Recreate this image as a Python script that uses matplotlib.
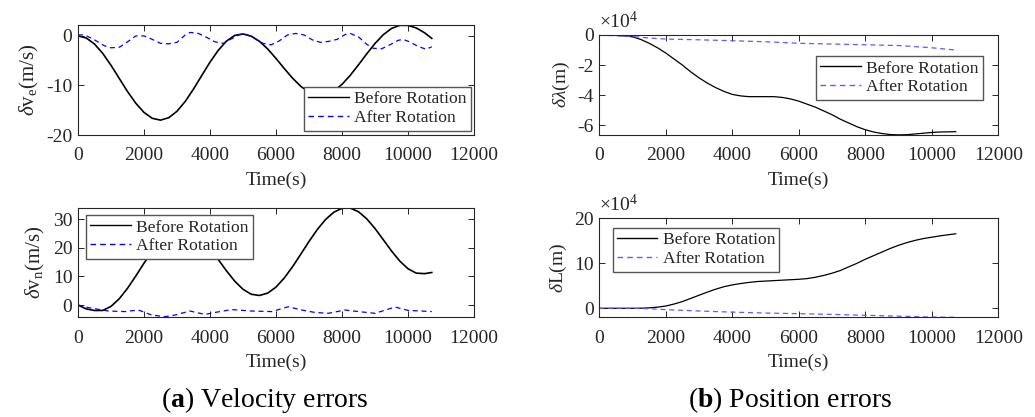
import numpy as np
import matplotlib
matplotlib.use("Agg")
import matplotlib.pyplot as plt

plt.rcParams['font.family'] = ['Liberation Serif', 'DejaVu Serif']
plt.rcParams['mathtext.fontset'] = 'custom'
plt.rcParams['mathtext.rm'] = 'Liberation Serif'
plt.rcParams['mathtext.it'] = 'Liberation Serif:italic'
plt.rcParams['mathtext.bf'] = 'Liberation Serif:bold'
plt.rcParams['axes.unicode_minus'] = False

# time axis (s) shared by the "before rotation" curves
t = [0, 250, 500, 750, 1000, 1250, 1500, 1750, 2000, 2250, 2500, 2750, 3000, 3250,
     3500, 3750, 4000, 4250, 4500, 4750, 5000, 5250, 5500, 5750, 6000, 6250, 6500,
     6750, 7000, 7250, 7500, 7750, 8000, 8250, 8500, 8750, 9000, 9250, 9500, 9750,
     10000, 10250, 10500, 10720]

# east velocity error, before rotation (m/s)
ve_before = [0, -0.42, -1.64, -3.54, -5.93, -8.58, -11.22, -13.58, -15.44, -16.63, -17.0,
             -16.51, -15.21, -13.22, -10.73, -8.0, -5.30, -2.91, -1.04, 0.10, 0.39,
             -0.05, -1.10, -2.65, -4.55, -6.58, -8.52, -10.17, -11.36, -11.94, -11.87,
             -11.13, -9.78, -7.95, -5.83, -3.62, -1.53, 0.23, 1.50, 2.13,
             2.12, 1.60, 0.64, -0.5]

# east velocity error, after rotation
t_ve_after = [0, 200, 500, 800, 1000, 1250, 1500, 1750, 2000, 2250, 2500, 2750, 3000,
              3250, 3400, 3650, 3900, 4150, 4400, 4650, 4900, 5100, 5350, 5600, 5850,
              6100, 6350, 6600, 6850, 7100, 7350, 7600, 7850, 8100, 8250, 8500, 8750,
              8950, 9200, 9450, 9700, 9850, 10050, 10300, 10550, 10720]
ve_after = [0.2, 0.2, -0.8, -2.0, -2.4, -2.3, -1.2, 0.0, 0.0, -0.7, -1.5, -1.6, -1.3,
            0.2, 0.7, 0.5, -0.3, -1.2, -1.5, -0.6, 0.3, 0.3, -0.5, -1.5, -1.8,
            -1.0, 0.2, 0.5, 0.2, -0.8, -1.3, -1.1, -0.7, 0.3, 0.5, -0.2, -1.7,
            -2.5, -2.6, -1.8, -0.9, -0.7, -1.2, -2.1, -2.7, -2.2]

# north velocity error, before rotation (m/s)
vn_before = [0, -1.36, -1.92, -1.90, -0.47, 2.19, 5.86, 10.15, 14.66, 18.95, 22.62,
             25.33, 26.78, 26.87, 25.63, 23.18, 19.83, 15.95, 11.97, 8.36, 5.52,
             3.77, 3.35, 4.18, 6.29, 9.46, 13.40, 17.79, 22.27, 26.45, 29.96,
             32.51, 33.90, 33.97, 32.70, 30.21, 26.82, 22.91, 18.95, 15.42,
             12.72, 11.18, 11.0, 11.4]

t_vn_after = [0, 313, 620, 920, 1420, 1830, 2230, 2640, 2940, 3390, 3850, 4150, 4660,
              5260, 5870, 6370, 6780, 7180, 7590, 8090, 8500, 9000, 9610, 10010,
              10410, 10720]
vn_after = [0, -0.9, -1.5, -2.1, -2.3, -1.75, -3.5, -4.1, -3.5, -2.1, -3.3, -2.6, -1.6,
            -2.1, -2.3, -0.6, -1.75, -2.6, -2.9, -1.75, -2.3, -2.9, -0.7, -1.9,
            -2.1, -2.3]

# longitude error (x1e4 m)
lon_before = [0, -0.01, -0.02, -0.06, -0.12, -0.3, -0.55, -0.85, -1.2, -1.6, -2.0,
              -2.45, -2.85, -3.2, -3.5, -3.75, -3.95, -4.05, -4.1, -4.1, -4.1,
              -4.1, -4.15, -4.25, -4.4, -4.6, -4.8, -5.05, -5.3, -5.6, -5.85,
              -6.1, -6.3, -6.45, -6.55, -6.62, -6.64, -6.63, -6.58, -6.53,
              -6.48, -6.45, -6.44, -6.43]
t_pos_after = [0, 500, 1000, 1500, 2000, 3000, 4000, 5000, 6000, 7000, 8000, 9000,
               10000, 10720]
lon_after = [0, -0.05, -0.1, -0.2, -0.27, -0.32, -0.38, -0.45, -0.55, -0.6, -0.65,
             -0.7, -0.85, -1.0]

# latitude error (x1e4 m)
lat_before = [0, 0, 0, 0, 0, 0.02, 0.1, 0.25, 0.5, 0.95, 1.5, 2.2, 2.9, 3.6, 4.25,
              4.8, 5.2, 5.5, 5.75, 5.95, 6.05, 6.15, 6.25, 6.35, 6.45, 6.6, 6.9,
              7.3, 7.8, 8.4, 9.2, 10.0, 10.9, 11.7, 12.5, 13.3, 14.0, 14.6, 15.1,
              15.5, 15.8, 16.1, 16.35, 16.55]
lat_after = [0, 0, 0, -0.1, -0.3, -0.6, -0.85, -1.05, -1.2, -1.35, -1.55, -1.75,
             -1.95, -2.0]

DARK = '#262626'
FS = 14
W, H = 1035, 417
fig = plt.figure(figsize=(W / 100, H / 100), dpi=100)


def make_ax(x0, y0, x1, y1):
    ax = fig.add_axes([x0 / W, 1 - y1 / H, (x1 - x0) / W, (y1 - y0) / H])
    ax.tick_params(direction='in', top=True, right=True, labelsize=FS,
                   colors=DARK, length=4, width=0.7)
    ax.tick_params(axis='x', pad=9)
    ax.tick_params(axis='y', pad=4)
    for s in ax.spines.values():
        s.set_color(DARK)
        s.set_linewidth(0.8)
    ax.set_xlim(0, 12000)
    ax.set_xticks([0, 2000, 4000, 6000, 8000, 10000, 12000])
    ax.set_xlabel('Time(s)', fontsize=FS, color=DARK, labelpad=5)
    return ax


def add_legend(ax, loc, anchor, blue):
    h1, = ax.plot([], [], color='black', lw=1)
    h2, = ax.plot([], [], color=blue, lw=1, ls=(0, (4, 3)))
    leg = ax.legend([h1, h2], ['Before Rotation', 'After Rotation'], loc=loc,
                    bbox_to_anchor=anchor, borderaxespad=0, fontsize=12.6,
                    fancybox=False, framealpha=1, edgecolor='#555555',
                    handlelength=2.3, handletextpad=0.3, labelspacing=0.15,
                    borderpad=0.25)
    leg.get_frame().set_linewidth(1.0)
    for txt in leg.get_texts():
        txt.set_color(DARK)


BLUE = '#0000ff'
LBLUE = '#5c5cff'

# (a) top: east velocity
ax1 = make_ax(78, 25, 474, 135)
ax1.plot(t, ve_before, color='black', lw=1.2)
ax1.plot(t_ve_after, ve_after, color=BLUE, lw=0.9, ls=(0, (4, 3)))
ax1.set_ylim(-20, 2.2)
ax1.set_yticks([-20, -10, 0])
ax1.set_ylabel(r'$\delta$v$_\mathrm{e}$(m/s)', fontsize=15, color=DARK, labelpad=4)
add_legend(ax1, 'lower right', (0.992, 0.039), BLUE)

# (a) bottom: north velocity
ax2 = make_ax(78, 208.3, 474, 317.3)
ax2.plot(t, vn_before, color='black', lw=1.2)
ax2.plot(t_vn_after, vn_after, color=BLUE, lw=0.9, ls=(0, (4, 3)))
ax2.set_ylim(-4.3, 33.9)
ax2.set_yticks([0, 10, 20, 30])
ax2.set_ylabel(r'$\delta$v$_\mathrm{n}$(m/s)', fontsize=15, color=DARK, labelpad=4)
add_legend(ax2, 'upper left', (0.02, 0.939), BLUE)

# (b) top: longitude
ax3 = make_ax(599.3, 35, 998.3, 135)
ax3.plot(t, lon_before, color='black', lw=0.9)
ax3.plot(t_pos_after, lon_after, color=LBLUE, lw=0.9, ls=(0, (4, 3)))
ax3.set_ylim(-6.65, 0)
ax3.set_yticks([-6, -4, -2, 0])
ax3.set_ylabel(r'$\delta\lambda$(m)', fontsize=FS, color=DARK, labelpad=4)
ax3.text(0.0, 1.03, r'$\times$10$^4$', transform=ax3.transAxes, fontsize=FS,
         color=DARK, ha='left', va='bottom')
add_legend(ax3, 'upper right', (0.961, 0.79), LBLUE)

# (b) bottom: latitude
ax4 = make_ax(599.3, 218.3, 998.3, 317.3)
ax4.plot(t, lat_before, color='black', lw=0.9)
ax4.plot(t_pos_after, lat_after, color=LBLUE, lw=0.9, ls=(0, (4, 3)))
ax4.set_ylim(-2, 20)
ax4.set_yticks([0, 10, 20])
ax4.set_ylabel(r'$\delta$L(m)', fontsize=FS, color=DARK, labelpad=4)
ax4.text(0.0, 1.03, r'$\times$10$^4$', transform=ax4.transAxes, fontsize=FS,
         color=DARK, ha='left', va='bottom')
add_legend(ax4, 'upper left', (0.0336, 0.905), LBLUE)

fig.text(265 / W, 1 - 400 / H, r'($\mathbf{a}$) Velocity errors', fontsize=20,
         ha='center', va='center')
fig.text(790 / W, 1 - 400 / H, r'($\mathbf{b}$) Position errors', fontsize=20,
         ha='center', va='center')

fig.savefig('out.png', dpi=100)
